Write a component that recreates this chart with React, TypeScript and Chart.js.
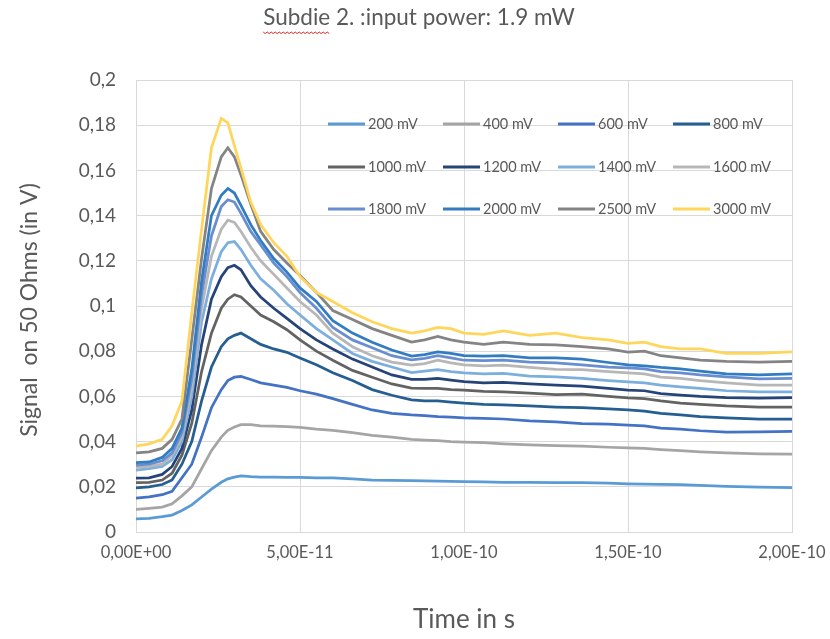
import React, { useEffect, useRef } from 'react';
import { Chart, registerables } from 'chart.js';
Chart.register(...registerables);

const titleText = 'Subdie 2. :input power: 1.9 mW';
const xAxisTitle = 'Time in s';
const yAxisTitle = 'Signal  on 50 Ohms (in V)';

const seriesNames = ['200 mV', '400 mV', '600 mV', '800 mV', '1000 mV', '1200 mV', '1400 mV', '1600 mV', '1800 mV', '2000 mV', '2500 mV', '3000 mV'];
const seriesColors = ['#5B9BD5', '#A5A5A5', '#4472C4', '#255E91', '#636363', '#264478', '#7CAFDD', '#B7B7B7', '#698ED0', '#327DC2', '#848484', '#FFD65C'];

// time in picoseconds (1e-12 s)
const timePs = [0, 4, 8, 11, 14, 17, 20, 23, 26, 28, 30, 32, 35, 38, 42, 46, 50, 55, 60, 66, 72, 78, 84, 88, 92, 96, 100, 106, 112, 120, 128, 136, 144, 150, 155, 160, 166, 172, 180, 190, 200];

const s200 = [0.0058, 0.006, 0.0068, 0.0075, 0.0095, 0.012, 0.0155, 0.019, 0.022, 0.0235, 0.0243, 0.0248, 0.0245, 0.0243, 0.0243, 0.0242, 0.0242, 0.024, 0.0239, 0.0235, 0.023, 0.0228, 0.0227, 0.0226, 0.0225, 0.0224, 0.0223, 0.0222, 0.022, 0.022, 0.0218, 0.0218, 0.0216, 0.0213, 0.0212, 0.0211, 0.021, 0.0206, 0.0202, 0.0199, 0.0196];
const s400 = [0.010, 0.0105, 0.011, 0.0125, 0.016, 0.020, 0.028, 0.036, 0.042, 0.045, 0.0465, 0.0475, 0.0475, 0.047, 0.0468, 0.0466, 0.0463, 0.0455, 0.045, 0.044, 0.0428, 0.042, 0.041, 0.0407, 0.0404, 0.040, 0.0398, 0.0395, 0.039, 0.0385, 0.0382, 0.038, 0.0375, 0.0372, 0.037, 0.0365, 0.036, 0.0355, 0.035, 0.0346, 0.0345];
const s600 = [0.015, 0.0155, 0.0165, 0.018, 0.024, 0.030, 0.042, 0.055, 0.063, 0.067, 0.0685, 0.0688, 0.0675, 0.066, 0.065, 0.064, 0.0625, 0.061, 0.059, 0.0565, 0.054, 0.0525, 0.0518, 0.0515, 0.051, 0.0508, 0.0505, 0.0503, 0.050, 0.0492, 0.0487, 0.048, 0.0477, 0.0473, 0.047, 0.046, 0.0455, 0.0448, 0.0442, 0.0443, 0.0445];
const s800 = [0.0195, 0.020, 0.021, 0.023, 0.030, 0.040, 0.058, 0.073, 0.082, 0.0855, 0.087, 0.088, 0.0855, 0.083, 0.081, 0.0795, 0.077, 0.074, 0.0705, 0.067, 0.063, 0.0605, 0.0585, 0.058, 0.058, 0.0575, 0.057, 0.0565, 0.0562, 0.0558, 0.0553, 0.055, 0.0545, 0.054, 0.0535, 0.0525, 0.0518, 0.051, 0.0505, 0.050, 0.050];
const s1000 = [0.0218, 0.022, 0.023, 0.026, 0.034, 0.048, 0.071, 0.088, 0.099, 0.103, 0.105, 0.104, 0.100, 0.096, 0.093, 0.0895, 0.085, 0.080, 0.076, 0.0715, 0.0685, 0.0655, 0.0637, 0.0635, 0.0635, 0.063, 0.0628, 0.0622, 0.062, 0.0615, 0.0608, 0.061, 0.060, 0.0593, 0.059, 0.058, 0.057, 0.0565, 0.0558, 0.0553, 0.0553];
const s1200 = [0.0238, 0.024, 0.0255, 0.029, 0.037, 0.054, 0.083, 0.103, 0.113, 0.117, 0.118, 0.116, 0.109, 0.104, 0.099, 0.0945, 0.090, 0.085, 0.081, 0.0765, 0.073, 0.0695, 0.0675, 0.0675, 0.068, 0.0672, 0.0665, 0.066, 0.0662, 0.0655, 0.065, 0.0645, 0.0635, 0.0628, 0.0625, 0.0612, 0.0606, 0.060, 0.0595, 0.0592, 0.0595];
const s1400 = [0.0274, 0.028, 0.029, 0.032, 0.040, 0.060, 0.093, 0.112, 0.124, 0.128, 0.1285, 0.125, 0.118, 0.112, 0.107, 0.101, 0.096, 0.090, 0.085, 0.079, 0.0755, 0.073, 0.0705, 0.0712, 0.0718, 0.071, 0.0704, 0.070, 0.0702, 0.069, 0.0686, 0.068, 0.067, 0.0664, 0.066, 0.065, 0.0642, 0.0635, 0.0625, 0.062, 0.062];
const s1600 = [0.0286, 0.029, 0.030, 0.034, 0.042, 0.064, 0.099, 0.122, 0.134, 0.138, 0.137, 0.133, 0.126, 0.120, 0.114, 0.108, 0.102, 0.096, 0.088, 0.082, 0.078, 0.0752, 0.0738, 0.0745, 0.076, 0.0748, 0.074, 0.0735, 0.0738, 0.0728, 0.072, 0.0718, 0.071, 0.0704, 0.070, 0.0685, 0.068, 0.067, 0.066, 0.065, 0.065];
const s1800 = [0.0296, 0.030, 0.0315, 0.035, 0.044, 0.068, 0.105, 0.131, 0.144, 0.147, 0.146, 0.141, 0.133, 0.127, 0.119, 0.113, 0.106, 0.099, 0.0905, 0.085, 0.0815, 0.078, 0.0762, 0.0768, 0.078, 0.077, 0.076, 0.0758, 0.076, 0.0752, 0.0748, 0.074, 0.073, 0.0726, 0.0722, 0.071, 0.0704, 0.0695, 0.0686, 0.0678, 0.068];
const s2000 = [0.0307, 0.031, 0.033, 0.037, 0.046, 0.072, 0.111, 0.140, 0.149, 0.152, 0.150, 0.1445, 0.136, 0.129, 0.121, 0.115, 0.108, 0.102, 0.0935, 0.088, 0.084, 0.0805, 0.0778, 0.0785, 0.0797, 0.079, 0.078, 0.0778, 0.078, 0.077, 0.077, 0.0765, 0.075, 0.0739, 0.0735, 0.0728, 0.0722, 0.0712, 0.070, 0.0695, 0.070];
const s2500 = [0.035, 0.0355, 0.037, 0.041, 0.050, 0.085, 0.121, 0.152, 0.166, 0.170, 0.166, 0.158, 0.145, 0.133, 0.125, 0.119, 0.1135, 0.106, 0.098, 0.094, 0.090, 0.087, 0.084, 0.085, 0.0865, 0.085, 0.084, 0.083, 0.084, 0.083, 0.0828, 0.082, 0.081, 0.0796, 0.080, 0.078, 0.077, 0.076, 0.0755, 0.0752, 0.0755];
const s3000 = [0.038, 0.039, 0.041, 0.047, 0.058, 0.097, 0.134, 0.170, 0.183, 0.181, 0.171, 0.161, 0.146, 0.136, 0.128, 0.122, 0.113, 0.106, 0.102, 0.097, 0.093, 0.090, 0.088, 0.089, 0.0905, 0.090, 0.088, 0.0875, 0.089, 0.087, 0.088, 0.086, 0.085, 0.0835, 0.084, 0.082, 0.081, 0.081, 0.079, 0.079, 0.0797];

const seriesValues = [s200, s400, s600, s800, s1000, s1200, s1400, s1600, s1800, s2000, s2500, s3000];

const FONT = 'Lato, "Open Sans", sans-serif';
const TEXT = '#595959';
const GRID = '#D9D9D9';

function fmtX(v: number): string {
  const s = (v * 1e-12).toExponential(2).toUpperCase();
  const m = s.match(/^(-?[\d.]+)E([+-])(\d+)$/);
  if (!m) return s;
  return m[1].replace('.', ',') + 'E' + m[2] + m[3].padStart(2, '0');
}
function fmtY(v: number): string {
  return String(Math.round(v * 100) / 100).replace('.', ',');
}

const overlayPlugin = {
  id: 'overlay',
  afterDatasetsDraw(chart: any) {
    const c = chart.ctx as CanvasRenderingContext2D;
    c.save();
    const colX = [328, 443, 558, 673];
    const rowY = [124, 167, 209];
    c.font = `14.5px ${FONT}`;
    c.textBaseline = 'middle';
    c.textAlign = 'left';
    seriesNames.forEach((name, i) => {
      const x = colX[i % 4];
      const y = rowY[Math.floor(i / 4)];
      c.strokeStyle = seriesColors[i];
      c.lineWidth = 3;
      c.beginPath();
      c.moveTo(x, y);
      c.lineTo(x + 37, y);
      c.stroke();
      c.fillStyle = TEXT;
      c.fillText(name, x + 40, y + 0.5);
    });
    c.restore();
  },
  afterDraw(chart: any) {
    const c = chart.ctx as CanvasRenderingContext2D;
    c.save();
    c.fillStyle = TEXT;
    c.textBaseline = 'middle';
    c.textAlign = 'center';
    c.font = `22.5px ${FONT}`;
    const tw = c.measureText(titleText).width;
    c.fillText(titleText, 419, 18);
    const sx = 419 - tw / 2;
    const ww = c.measureText('Subdie').width;
    c.strokeStyle = '#E02020';
    c.lineWidth = 1;
    c.beginPath();
    for (let x = 0; x <= ww; x += 2) {
      const yy = 32 + ((x / 2) % 2 === 0 ? 0 : 1.6);
      if (x === 0) c.moveTo(sx + x, yy); else c.lineTo(sx + x, yy);
    }
    c.stroke();
    c.font = `26px ${FONT}`;
    c.fillText(xAxisTitle, 464, 620);
    c.translate(30, 310);
    c.rotate(-Math.PI / 2);
    c.font = `23px ${FONT}`;
    c.fillText(yAxisTitle, 0, 0);
    c.restore();
  },
};

export default function App() {
  const ref = useRef<HTMLCanvasElement>(null);
  useEffect(() => {
    document.body.style.margin = '0';
    const canvas = ref.current;
    if (!canvas) return;
    const n = seriesNames.length;
    const datasets = seriesNames.map((name, i) => ({
      label: name,
      data: timePs.map((t, j) => ({ x: t, y: seriesValues[i][j] })),
      borderColor: seriesColors[i],
      backgroundColor: seriesColors[i],
      borderWidth: 2.75,
      pointRadius: 0,
      tension: 0,
      fill: false,
      order: n - i,
    }));
    const chart = new Chart(canvas, {
      type: 'line',
      data: { datasets },
      options: {
        responsive: false,
        animation: false,
        maintainAspectRatio: false,
        layout: { padding: { top: 80, right: 38, left: 0, bottom: 0 } },
        plugins: {
          legend: { display: false },
          title: { display: false },
          tooltip: { enabled: false },
        },
        scales: {
          x: {
            type: 'linear',
            min: 0,
            max: 200,
            afterFit: (s: any) => { s.height = 107; s.paddingLeft = 0; s.paddingRight = 0; },
            grid: { color: GRID, drawTicks: false, lineWidth: 1 },
            border: { color: GRID },
            ticks: {
              stepSize: 50,
              padding: 11,
              maxRotation: 0,
              autoSkip: false,
              color: TEXT,
              font: { family: FONT, size: 16.5 },
              callback: (v: any) => fmtX(Number(v)),
            },
          },
          y: {
            type: 'linear',
            min: 0,
            max: 0.2,
            afterFit: (s: any) => { s.width = 136; s.paddingTop = 0; s.paddingBottom = 0; },
            grid: { color: GRID, drawTicks: false, lineWidth: 1 },
            border: { color: GRID },
            ticks: {
              stepSize: 0.02,
              padding: 20,
              color: TEXT,
              font: { family: FONT, size: 19 },
              callback: (v: any) => fmtY(Number(v)),
            },
          },
        },
      },
      plugins: [overlayPlugin],
    } as any);
    return () => chart.destroy();
  }, []);
  return (
    <div style={{ width: 830, height: 639, background: '#fff' }}>
      <canvas ref={ref} width={830} height={639} style={{ display: 'block' }} />
    </div>
  );
}
